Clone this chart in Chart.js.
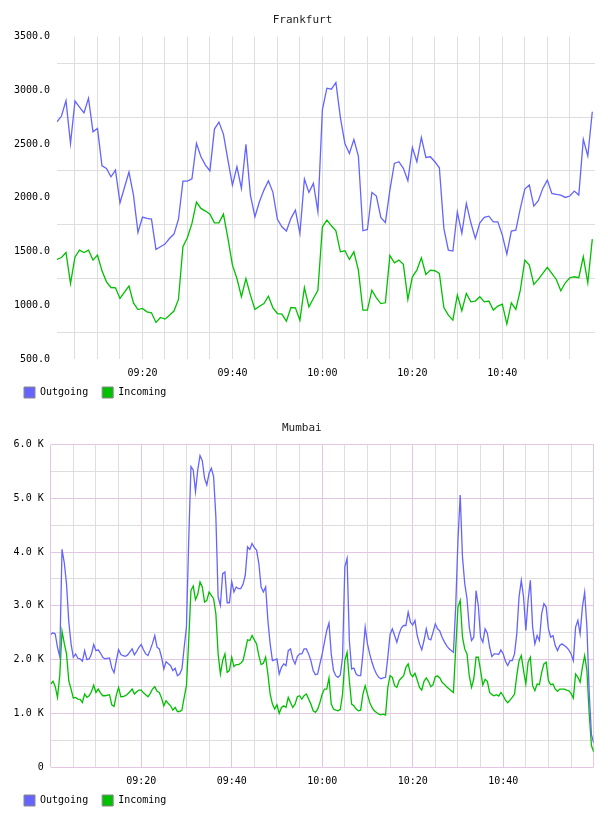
<!DOCTYPE html>
<html>
<head>
<meta charset="utf-8">
<script src="https://cdn.jsdelivr.net/npm/chart.js@4.4.1/dist/chart.umd.min.js"></script>
<style>
  body { margin: 0; background: #fff; }
  canvas { display: block; }
</style>
</head>
<body>
<canvas id="frankfurtChart" width="608" height="408"></canvas>
<canvas id="mumbaiChart" width="608" height="408"></canvas>
<script>
// x values are minutes after 09:00
const frankfurtStart = 1;
const frankfurtStep = 1;
const frankfurtOutgoing = [
  2706, 2760, 2903, 2505, 2900, 2843, 2790, 2926, 2613, 2644,
  2297, 2272, 2195, 2257, 1953, 2095, 2239, 2025, 1677, 1820,
  1808, 1801, 1519, 1544, 1569, 1621, 1662, 1798, 2155, 2155,
  2177, 2505, 2381, 2304, 2251, 2639, 2704, 2592, 2350, 2117,
  2288, 2087, 2496, 2025, 1823, 1963, 2071, 2158, 2050, 1799,
  1730, 1690, 1808, 1885, 1668, 2174, 2050, 2133, 1870, 2821,
  3019, 3010, 3072, 2746, 2505, 2412, 2542, 2387, 1693, 1705,
  2050, 2016, 1814, 1770, 2071, 2319, 2335, 2273, 2158, 2468,
  2335, 2561, 2375, 2381, 2335, 2279, 1715, 1513, 1504, 1867,
  1668, 1947, 1767, 1621, 1767, 1817, 1829, 1776, 1776, 1652,
  1476, 1690, 1699, 1901, 2081, 2118, 1922, 1972, 2087, 2164,
  2040, 2031, 2025, 2003, 2016, 2062, 2025, 2543, 2388, 2800
];
const frankfurtIncoming = [
  1426, 1444, 1491, 1202, 1450, 1513, 1491, 1513, 1420, 1466,
  1320, 1218, 1165, 1162, 1063, 1121, 1180, 1022, 960, 970,
  939, 930, 840, 886, 871, 908, 946, 1054, 1544, 1631,
  1761, 1960, 1901, 1876, 1848, 1767, 1767, 1848, 1621, 1373,
  1249, 1079, 1249, 1094, 960, 991, 1016, 1085, 976, 923,
  917, 852, 979, 976, 861, 1165, 985, 1063, 1140, 1730,
  1792, 1739, 1693, 1497, 1507, 1426, 1497, 1327, 954, 954,
  1140, 1069, 1016, 1023, 1463, 1395, 1420, 1380, 1054, 1265,
  1327, 1441, 1286, 1327, 1321, 1296, 979, 908, 862, 1094,
  949, 1110, 1032, 1039, 1079, 1032, 1039, 955, 992, 1011,
  825, 1023, 961, 1141, 1420, 1373, 1193, 1240, 1296, 1352,
  1296, 1240, 1135, 1209, 1256, 1265, 1256, 1451, 1209, 1615
];

const mumbaiStart = 0;
const mumbaiStep = 0.5;
const mumbaiOutgoing = [
  2465, 2496, 2477, 2228, 2054, 4050, 3800, 3400, 2700, 2291,
  2042, 2104, 2023, 2011, 1967, 2166, 1998, 2011, 2100, 2278,
  2166, 2179, 2120, 2042, 2011, 2020, 2029, 1842, 1755, 1979,
  2185, 2092, 2070, 2060, 2085, 2140, 2197, 2085, 2150, 2228,
  2278, 2180, 2104, 2073, 2179, 2300, 2446, 2228, 2197, 2042,
  1824, 1961, 1920, 1886, 1793, 1836, 1699, 1730, 1824, 2228,
  2602, 4220, 5590, 5528, 5123, 5528, 5795, 5700, 5372, 5247,
  5465, 5559, 5403, 4656, 3162, 3007, 3598, 3629, 3056, 3056,
  3450, 3256, 3349, 3318, 3318, 3399, 3567, 4096, 4046, 4158,
  4083, 4034, 3785, 3349, 3256, 3349, 2726, 2291, 1979, 1992,
  2011, 1730, 1855, 1917, 1886, 2166, 2197, 2011, 1917, 2054,
  2104, 2104, 2197, 2197, 2104, 1979, 1793, 1718, 1730, 1917,
  2104, 2322, 2540, 2677, 2104, 1793, 1699, 1668, 1712, 2042,
  3722, 3878, 2353, 1824, 1842, 1730, 1699, 1699, 2104, 2602,
  2291, 2104, 1948, 1824, 1730, 1668, 1643, 1656, 1668, 2042,
  2465, 2571, 2446, 2322, 2477, 2590, 2633, 2633, 2882, 2695,
  2640, 2726, 2446, 2291, 2179, 2353, 2571, 2384, 2365, 2509,
  2664, 2571, 2527, 2415, 2328, 2260, 2204, 2166, 2135, 2975,
  4220, 5061, 3909, 3411, 3131, 2602, 2353, 2415, 3280, 3000,
  2415, 2322, 2571, 2490, 2228, 2054, 2104, 2104, 2092, 2179,
  2104, 1967, 1886, 1979, 1979, 2104, 2477, 3162, 3473, 3162,
  2540, 3100, 3473, 2602, 2291, 2446, 2353, 2851, 3038, 2975,
  2571, 2415, 2446, 2260, 2166, 2260, 2291, 2260, 2228, 2179,
  2104, 1979, 2602, 2726, 2477, 2975, 3250, 2600, 1400, 600,
  450
];
const mumbaiIncoming = [
  1544, 1594, 1500, 1295, 1700, 2527, 2300, 2104, 1600, 1450,
  1282, 1295, 1264, 1257, 1201, 1357, 1295, 1326, 1400, 1525,
  1388, 1450, 1380, 1326, 1326, 1335, 1345, 1158, 1127, 1338,
  1481, 1307, 1310, 1326, 1357, 1400, 1450, 1357, 1400, 1432,
  1432, 1380, 1345, 1307, 1369, 1450, 1494, 1407, 1388, 1282,
  1139, 1232, 1180, 1139, 1058, 1108, 1033, 1033, 1058, 1295,
  1513, 2353, 3287, 3368, 3112, 3212, 3442, 3349, 3069, 3100,
  3256, 3193, 3131, 2851, 2104, 1730, 1979, 2104, 1762, 1793,
  2042, 1867, 1905, 1905, 1930, 1979, 2166, 2365, 2353, 2446,
  2365, 2291, 2073, 1905, 1930, 2042, 1730, 1357, 1170, 1077,
  1158, 996, 1108, 1139, 1108, 1295, 1201, 1108, 1170, 1307,
  1326, 1264, 1326, 1357, 1264, 1170, 1046, 1015, 1077, 1201,
  1357, 1450, 1450, 1656, 1170, 1077, 1058, 1046, 1071, 1357,
  1979, 2135, 1606, 1170, 1139, 1077, 1046, 1058, 1357, 1513,
  1357, 1201, 1108, 1046, 1015, 983, 971, 983, 965, 1481,
  1699, 1668, 1513, 1481, 1606, 1656, 1699, 1855, 1917, 1730,
  1681, 1743, 1618, 1481, 1432, 1594, 1656, 1594, 1494, 1531,
  1681, 1693, 1656, 1575, 1537, 1494, 1457, 1419, 1388, 2197,
  2975, 3100, 2415, 2197, 2104, 1699, 1481, 1637, 2042, 2042,
  1793, 1525, 1631, 1594, 1388, 1345, 1326, 1345, 1320, 1388,
  1326, 1245, 1195, 1245, 1295, 1357, 1699, 1979, 2073, 1793,
  1544, 1948, 2042, 1513, 1419, 1544, 1531, 1762, 1917, 1948,
  1606, 1531, 1544, 1450, 1407, 1450, 1450, 1450, 1432, 1419,
  1369, 1282, 1730, 1668, 1575, 1855, 2073, 1793, 1000, 400,
  280
];

const timeTicks = [0, 5, 10, 15, 20, 25, 30, 35, 40, 45, 50, 55, 60,
  65, 70, 75, 80, 85, 90, 95, 100, 105, 110, 115, 120];
const frankfurtYTicks = [500, 750, 1000, 1250, 1500, 1750, 2000, 2250,
  2500, 2750, 3000, 3250, 3500];
const mumbaiYTicks = [0, 500, 1000, 1500, 2000, 2500, 3000, 3500,
  4000, 4500, 5000, 5500, 6000];

const OUT_COLOR = '#6464ff';
const IN_COLOR = '#00c000';
const GRID_GREY = '#dedede';
const GRID_PURPLE = '#e2c6e2';
const NONE = 'rgba(0,0,0,0)';

Chart.defaults.font.family = "'DejaVu Sans Mono', monospace";
Chart.defaults.font.size = 10;
Chart.defaults.color = '#000';
Chart.defaults.animation = false;

// x axis box has to hold its labels (they are clipped to it),
// so the legend is pulled back up by the same amount afterwards
const LEGEND_LIFT = 8.4;
const liftLegend = {
  id: 'liftLegend',
  afterLayout(chart) {
    const lg = chart.legend;
    if (lg) {
      lg.top -= LEGEND_LIFT;
      lg.bottom -= LEGEND_LIFT;
    }
  }
};

function clockLabel(min) {
  const h = 9 + Math.floor(min / 60);
  const m = min % 60;
  return String(h).padStart(2, '0') + ':' + String(m).padStart(2, '0');
}

function toPoints(values, start, step) {
  return values.map((v, i) => ({ x: start + i * step, y: v }));
}

function makeChart(id, title, outValues, inValues, start, step, cfg) {
  return new Chart(document.getElementById(id), {
    type: 'line',
    data: {
      datasets: [
        {
          label: 'Outgoing',
          data: toPoints(outValues, start, step),
          borderColor: OUT_COLOR,
          backgroundColor: OUT_COLOR,
          borderWidth: 1.3,
          pointRadius: 0,
          tension: 0
        },
        {
          label: 'Incoming',
          data: toPoints(inValues, start, step),
          borderColor: IN_COLOR,
          backgroundColor: IN_COLOR,
          borderWidth: 1.3,
          pointRadius: 0,
          tension: 0
        }
      ]
    },
    plugins: [liftLegend],
    options: {
      responsive: false,
      devicePixelRatio: 1,
      layout: { padding: { left: 10, right: cfg.padRight, top: 0, bottom: -LEGEND_LIFT } },
      plugins: {
        title: {
          display: true,
          text: title,
          color: '#222',
          font: { size: 11, weight: 'normal' },
          padding: { top: 14, bottom: 9.3 }
        },
        legend: {
          position: 'bottom',
          align: 'start',
          labels: {
            boxWidth: 11,
            boxHeight: 11,
            padding: 14,
            font: { size: 10 },
            generateLabels: chart => chart.data.datasets.map((ds, i) => ({
              text: ds.label,
              fillStyle: ds.borderColor,
              strokeStyle: '#888',
              lineWidth: 1,
              datasetIndex: i,
              hidden: false
            }))
          }
        },
        tooltip: { enabled: false }
      },
      scales: {
        x: {
          type: 'linear',
          min: cfg.xMin,
          max: cfg.xMax,
          afterBuildTicks: axis => {
            axis.ticks = cfg.xTicks.map(v => ({ value: v }));
          },
          afterFit: axis => { axis.height = 14 + LEGEND_LIFT; },
          ticks: {
            autoSkip: false,
            maxRotation: 0,
            padding: 8,
            callback: v => (v % 20 === 0 && v > 0 && v < 120) ? clockLabel(v) : ''
          },
          grid: { color: cfg.xGrid, drawTicks: false, lineWidth: 1 },
          border: { display: false }
        },
        y: {
          min: cfg.yTicks[0],
          max: cfg.yTicks[cfg.yTicks.length - 1],
          afterBuildTicks: axis => {
            axis.ticks = cfg.yTicks.map(v => ({ value: v }));
          },
          afterFit: axis => { axis.width = cfg.yWidth; },
          ticks: {
            autoSkip: false,
            padding: 7,
            callback: cfg.yLabel
          },
          grid: { color: cfg.yGrid, drawTicks: false, lineWidth: 1 },
          border: { display: false }
        }
      }
    }
  });
}

makeChart('frankfurtChart', 'Frankfurt', frankfurtOutgoing, frankfurtIncoming,
  frankfurtStart, frankfurtStep, {
    padRight: 13,
    xMin: 1,
    xMax: 120.6,
    xTicks: timeTicks.filter(v => v > 0 && v < 120),
    xGrid: GRID_GREY,
    yTicks: frankfurtYTicks,
    yWidth: 47,
    yLabel: v => v % 500 === 0 ? v.toFixed(1) : '',
    yGrid: c => (c.tick && c.tick.value % 500 === 250) ? GRID_GREY : NONE
  });

makeChart('mumbaiChart', 'Mumbai', mumbaiOutgoing, mumbaiIncoming,
  mumbaiStart, mumbaiStep, {
    padRight: 14.3,
    xMin: 0,
    xMax: 120,
    xTicks: timeTicks,
    xGrid: c => (c.tick && c.tick.value % 20 === 0) ? GRID_PURPLE : GRID_GREY,
    yTicks: mumbaiYTicks,
    yWidth: 40.7,
    yLabel: v => v === 0 ? '0' : (v % 1000 === 0 ? (v / 1000).toFixed(1) + ' K' : ''),
    yGrid: c => (c.tick && c.tick.value % 1000 === 0) ? GRID_PURPLE : GRID_GREY
  });
</script>
</body>
</html>
